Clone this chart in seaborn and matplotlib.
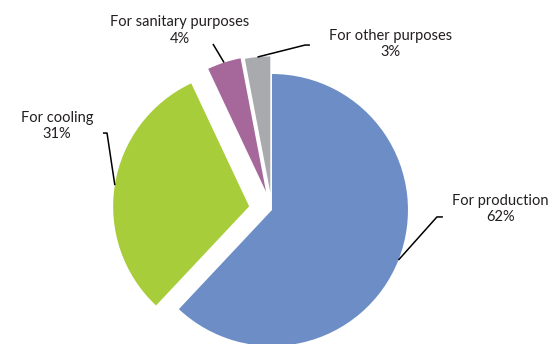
import numpy as np
import seaborn as sns
import matplotlib.pyplot as plt

sns.set_style("white")
plt.rcParams['font.family'] = ['Lato', 'DejaVu Sans']

# data
categories = ['For production', 'For cooling', 'For sanitary purposes', 'For other purposes']
shares = [62, 31, 4, 3]
colors = ['#6d8dc6', '#a8cd3b', '#a6689a', '#a9aaae']
explode = [0, 0.17, 0.14, 0.13]

# label layout (data units, pie radius = 1)
label_pos = [(1.68, 0.01), (-1.58, 0.62), (-0.68, 1.32), (0.87, 1.22)]
elbows = [(1.213, -0.051), (-1.213, 0.566), (-0.434, 1.221), (0.243, 1.213)]
hooks = [(1.257, -0.051), (-1.243, 0.566), None, (0.279, 1.213)]

fig = plt.figure(figsize=(5.6, 3.44), dpi=100)
ax = fig.add_axes([0, 0, 1, 1])

wedges, _ = ax.pie(shares, colors=colors, explode=explode, startangle=90,
                   counterclock=False, radius=1,
                   wedgeprops=dict(linewidth=0))

for w, cat, val, pos, elb, hk in zip(wedges, categories, shares,
                                     label_pos, elbows, hooks):
    mid = np.deg2rad((w.theta1 + w.theta2) / 2)
    cx, cy = w.center
    ax_pt = (cx + w.r * np.cos(mid), cy + w.r * np.sin(mid))
    xs = [ax_pt[0], elb[0]]
    ys = [ax_pt[1], elb[1]]
    if hk is not None:
        xs.append(hk[0])
        ys.append(hk[1])
    ax.plot(xs, ys, color='black', lw=1.1, solid_capstyle='butt')
    ax.text(pos[0], pos[1], '%s\n%d%%' % (cat, val), ha='center', va='center',
            fontsize=10.5, color='#231f20', linespacing=1.2)

ax.set_xlim(-2.0, 2.118)
ax.set_ylim(-0.985, 1.544)
ax.set_aspect('equal')
ax.axis('off')

fig.savefig('out.png', dpi=100)
